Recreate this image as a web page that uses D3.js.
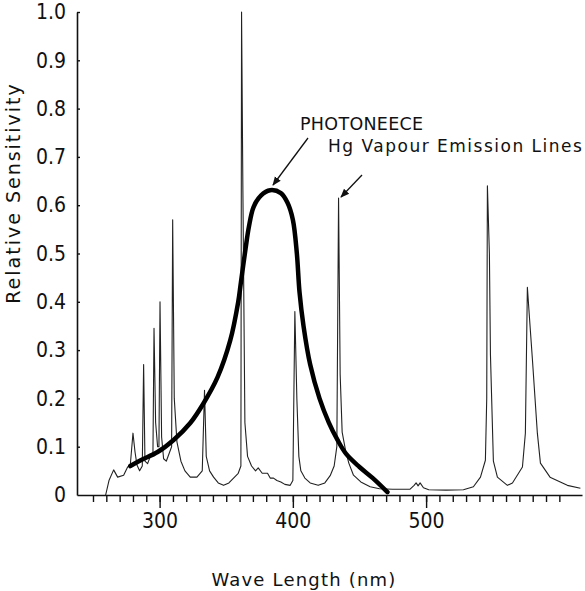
<!DOCTYPE html>
<html>
<head>
<meta charset="utf-8">
<script src="https://cdn.jsdelivr.net/npm/d3@7"></script>
<style>
  body { margin: 0; background: #fff; }
  svg { display: block; }
</style>
</head>
<body>
<div id="vis"></div>
<script>
// frame
const FRAME_WIDTH = 585;
const FRAME_HEIGHT = 591;
const MARGINS = {left: 77, right: 3, top: 12, bottom: 96};

// Hg vapour lamp spectrum (thin trace)
const specWave = [259.5, 262, 265.5, 268.5, 273, 276, 278, 280, 281.5, 283, 285, 287, 288, 289, 291, 293, 295,
  295.8, 297, 298.5, 299.5, 300.3, 301.5, 303, 305, 307, 309, 309.8, 311, 313, 316, 319, 323, 328, 332,
  333.7, 335, 337.5, 340.5, 344, 348, 352, 355.5, 359, 361, 361.5, 362.5, 364, 366, 369, 372, 374, 377,
  381, 383, 385.5, 388, 391, 394, 398, 400, 401.5, 403, 404.5, 406, 409, 413, 419, 424, 428, 431, 433,
  434.3, 435.5, 437, 439.5, 442, 445.5, 451, 458, 465, 475, 488, 491, 492.5, 494, 495.5, 498, 502, 515,
  528, 535.5, 540.8, 544.5, 545.5, 546, 547.5, 548.3, 550.5, 553.5, 561, 564.8, 572.3, 574.5, 576, 577.5,
  579.8, 583.5, 585.8, 593, 606, 615.8];
const specVal = [0, 0.03, 0.052, 0.037, 0.041, 0.058, 0.062, 0.128, 0.09, 0.062, 0.05, 0.06, 0.27, 0.07, 0.065, 0.08, 0.085,
  0.345, 0.15, 0.1, 0.1, 0.40, 0.12, 0.075, 0.07, 0.085, 0.1, 0.57, 0.2, 0.11, 0.07, 0.05, 0.037, 0.037, 0.05,
  0.217, 0.08, 0.05, 0.037, 0.025, 0.02, 0.025, 0.035, 0.045, 0.06, 1.0, 0.63, 0.15, 0.08, 0.06, 0.05, 0.056, 0.045,
  0.045, 0.035, 0.035, 0.03, 0.027, 0.022, 0.02, 0.03, 0.38, 0.2, 0.08, 0.05, 0.035, 0.025, 0.02, 0.025, 0.04, 0.06, 0.1,
  0.615, 0.25, 0.13, 0.093, 0.066, 0.041, 0.027, 0.017, 0.013, 0.012, 0.012, 0.02, 0.025, 0.019, 0.025, 0.015, 0.011, 0.01,
  0.011, 0.017, 0.037, 0.072, 0.2, 0.64, 0.5, 0.29, 0.07, 0.037, 0.02, 0.025, 0.058, 0.128, 0.43, 0.37,
  0.28, 0.128, 0.066, 0.037, 0.02, 0.014];

// PHOTONEECE sensitivity (thick curve)
const photoWave = [278, 285.8, 298.5, 310.5, 323, 333, 343.5, 353, 359, 361, 364.5, 367, 370.5, 376, 383, 391,
  396, 400, 403, 405, 408, 413, 420, 427, 433.5, 440, 450, 460, 471];
const photoVal = [0.06, 0.072, 0.089, 0.114, 0.149, 0.19, 0.244, 0.32, 0.40, 0.44, 0.51, 0.555, 0.596, 0.62, 0.631, 0.625,
  0.605, 0.57, 0.50, 0.42, 0.35, 0.27, 0.2, 0.15, 0.114, 0.085, 0.058, 0.035, 0.006];

// axis ticks
const yTicks = [0, 0.1, 0.2, 0.3, 0.4, 0.5, 0.6, 0.7, 0.8, 0.9, 1.0];
const yTickLabels = ["0", "0.1", "0.2", "0.3", "0.4", "0.5", "0.6", "0.7", "0.8", "0.9", "1.0"];
const xMajor = [300, 400, 500];
const xMinor = d3.range(250, 601, 10);

const VIS_WIDTH = FRAME_WIDTH - MARGINS.left - MARGINS.right;
const VIS_HEIGHT = FRAME_HEIGHT - MARGINS.top - MARGINS.bottom;

const svg = d3.select("#vis").append("svg")
  .attr("width", FRAME_WIDTH)
  .attr("height", FRAME_HEIGHT);

const X = d3.scaleLinear().domain([238, 617]).range([0, VIS_WIDTH]);
const Y = d3.scaleLinear().domain([0, 1]).range([VIS_HEIGHT, 0]);

const g = svg.append("g")
  .attr("transform", "translate(" + MARGINS.left + "," + MARGINS.top + ")");

const INK = "#111";
const NUM_FONT = "'Liberation Sans Narrow', 'DejaVu Sans Condensed', 'Liberation Sans', sans-serif";
const TXT_FONT = "'DejaVu Sans', sans-serif";

// x axis: minor ticks then major ticks + labels
const xMinorAxis = g.append("g")
  .attr("transform", "translate(0," + VIS_HEIGHT + ")")
  .call(d3.axisBottom(X).tickValues(xMinor).tickSize(7).tickFormat("").tickSizeOuter(0));
const xMajorAxis = g.append("g")
  .attr("transform", "translate(0," + VIS_HEIGHT + ")")
  .call(d3.axisBottom(X).tickValues(xMajor).tickSize(13).tickPadding(5).tickFormat(d3.format("d")).tickSizeOuter(0));

// y axis: ticks cross the axis line
const yAxis = g.append("g")
  .call(d3.axisLeft(Y).tickValues(yTicks).tickSize(9).tickPadding(2)
    .tickFormat((d, i) => yTickLabels[i]).tickSizeOuter(0));
yAxis.selectAll(".tick line").attr("x2", 3).filter(d => d === 0).remove();

[xMinorAxis, xMajorAxis, yAxis].forEach(a => {
  a.select(".domain").attr("stroke", INK).attr("stroke-width", 1.6);
  a.selectAll(".tick line").attr("stroke", INK).attr("stroke-width", 1.4);
  a.selectAll("text").attr("fill", INK).attr("font-family", NUM_FONT).attr("font-size", 21);
});
xMajorAxis.select(".domain").remove();

// spectrum trace
const specData = specWave.map((w, i) => ({w: w, v: specVal[i]}));
g.append("path")
  .datum(specData)
  .attr("fill", "none")
  .attr("stroke", "#222")
  .attr("stroke-width", 1.1)
  .attr("stroke-linejoin", "round")
  .attr("d", d3.line().x(d => X(d.w)).y(d => Y(d.v)));

// PHOTONEECE curve
const photoData = photoWave.map((w, i) => ({w: w, v: photoVal[i]}));
g.append("path")
  .datum(photoData)
  .attr("fill", "none")
  .attr("stroke", "#000")
  .attr("stroke-width", 4.5)
  .attr("stroke-linecap", "round")
  .attr("d", d3.line().curve(d3.curveCatmullRom).x(d => X(d.w)).y(d => Y(d.v)));

// annotations
svg.append("defs").append("marker")
  .attr("id", "head")
  .attr("viewBox", "0 0 10 10")
  .attr("refX", 9).attr("refY", 5)
  .attr("markerWidth", 9).attr("markerHeight", 9)
  .attr("markerUnits", "userSpaceOnUse")
  .attr("orient", "auto")
  .append("path").attr("d", "M0,1 L10,5 L0,9 Z").attr("fill", INK);

const notes = [
  {text: "PHOTONEECE", x: 300, y: 130, size: 17.5, spacing: 0.3, from: [308, 138], to: [273, 185]},
  {text: "Hg Vapour Emission Lines", x: 328, y: 152, size: 17, spacing: 1.5, from: [362, 175], to: [341, 197]}
];
notes.forEach(n => {
  svg.append("text")
    .attr("x", n.x).attr("y", n.y)
    .attr("font-family", TXT_FONT).attr("font-size", n.size)
    .attr("letter-spacing", n.spacing)
    .attr("fill", INK)
    .text(n.text);
  svg.append("line")
    .attr("x1", n.from[0]).attr("y1", n.from[1])
    .attr("x2", n.to[0]).attr("y2", n.to[1])
    .attr("stroke", INK).attr("stroke-width", 1.3)
    .attr("marker-end", "url(#head)");
});

// axis titles
svg.append("text")
  .attr("x", 304).attr("y", 586)
  .attr("text-anchor", "middle")
  .attr("font-family", TXT_FONT).attr("font-size", 18)
  .attr("letter-spacing", 1.2)
  .attr("fill", INK)
  .text("Wave Length (nm)");

svg.append("text")
  .attr("transform", "translate(20,193) rotate(-90)")
  .attr("text-anchor", "middle")
  .attr("font-family", TXT_FONT).attr("font-size", 19)
  .attr("letter-spacing", 2)
  .attr("fill", INK)
  .text("Relative Sensitivity");
</script>
</body>
</html>
